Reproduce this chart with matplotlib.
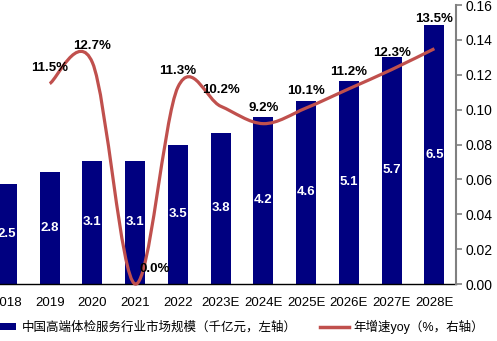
import matplotlib
matplotlib.use('Agg')
import matplotlib.pyplot as plt
from matplotlib.path import Path
from matplotlib.patches import PathPatch, Patch
from matplotlib.lines import Line2D

plt.rcParams['font.family'] = ['Liberation Sans', 'Noto Sans CJK SC', 'DejaVu Sans']

years = ['2018', '2019', '2020', '2021', '2022', '2023E', '2024E',
         '2025E', '2026E', '2027E', '2028E']
market = [2.5, 2.8, 3.1, 3.1, 3.5, 3.8, 4.2, 4.6, 5.1, 5.7, 6.5]
# growth starts at 2019
growth_years = years[1:]
growth = [0.115, 0.127, 0.000, 0.113, 0.102, 0.092, 0.101, 0.112, 0.123, 0.135]
growth_labels = ['11.5%', '12.7%', '0.0%', '11.3%', '10.2%', '9.2%',
                 '10.1%', '11.2%', '12.3%', '13.5%']

bar_color = '#000080'
line_color = '#C0504D'

fig = plt.figure(figsize=(4.97, 3.41), dpi=100)
ax = fig.add_axes([-0.029, 0.167, 0.946, 0.818])
ax2 = ax.twinx()

x = list(range(len(years)))
ax.bar(x, market, width=0.47, color=bar_color, zorder=2)
for xi, v in zip(x, market):
    ax.text(xi, v / 2, f'{v:.1f}', color='white', fontsize=9.5, fontweight='bold',
            ha='center', va='center', zorder=3)

ax.set_ylim(0, 7)
ax.set_xlim(-0.5, len(years) - 0.5)
ax.set_xticks(x)
ax.set_xticklabels(years, fontsize=9.5)
ax.tick_params(axis='x', length=0, pad=9)
ax.tick_params(axis='y', left=False, labelleft=False)
for s in ['top', 'left', 'right']:
    ax.spines[s].set_visible(False)
ax.spines['bottom'].set_color('black')
ax.spines['bottom'].set_linewidth(1)

# smoothed line (Catmull-Rom style bezier, like Excel's smoothing)
gx = [years.index(y) for y in growth_years]
pts = list(zip(gx, growth))
verts = [pts[0]]
codes = [Path.MOVETO]
n = len(pts)
for i in range(n - 1):
    p0 = pts[i - 1] if i > 0 else pts[i]
    p1 = pts[i]
    p2 = pts[i + 1]
    p3 = pts[i + 2] if i + 2 < n else pts[i + 1]
    c1 = (p1[0] + (p2[0] - p0[0]) / 6, p1[1] + (p2[1] - p0[1]) / 6)
    c2 = (p2[0] - (p3[0] - p1[0]) / 6, p2[1] - (p3[1] - p1[1]) / 6)
    verts += [c1, c2, p2]
    codes += [Path.CURVE4] * 3
ax2.add_patch(PathPatch(Path(verts, codes), facecolor='none', edgecolor=line_color,
                        linewidth=2.3, clip_on=False, zorder=4))

offsets = [(0, 16), (0, 17), (20, 15), (0, 16), (0, 16), (0, 16),
           (0, 17), (0, 17), (0, 17), (0, 30)]
for xi, v, lab, off in zip(gx, growth, growth_labels, offsets):
    ax2.annotate(lab, (xi, v), xytext=off, textcoords='offset pixels',
                 ha='center', va='center', fontsize=9.5, fontweight='bold', zorder=5)

ax2.set_ylim(0, 0.16)
ax2.set_yticks([0, 0.02, 0.04, 0.06, 0.08, 0.10, 0.12, 0.14, 0.16])
ax2.set_yticklabels([f'{t:.2f}' for t in ax2.get_yticks()], fontsize=10)
ax2.tick_params(axis='y', colors='#808080', labelcolor='black', length=4, width=1.2, pad=3)
for s in ['top', 'left', 'bottom']:
    ax2.spines[s].set_visible(False)
ax2.spines['right'].set_color('#808080')
ax2.spines['right'].set_linewidth(1.5)

handles = [Patch(facecolor=bar_color, edgecolor='none'),
           Line2D([0], [0], color=line_color, linewidth=2.5)]
labels = ['中国高端体检服务行业市场规模（千亿元，左轴）', '年增速yoy（%，右轴）']
fig.legend(handles, labels, loc='center left', bbox_to_anchor=(-0.025, 1 - 327 / 341),
           ncol=2, frameon=False, fontsize=9, handlelength=2.3, handleheight=0.5,
           handletextpad=0.4, columnspacing=1.9, borderpad=0, borderaxespad=0)

fig.savefig('out.png', dpi=100)
